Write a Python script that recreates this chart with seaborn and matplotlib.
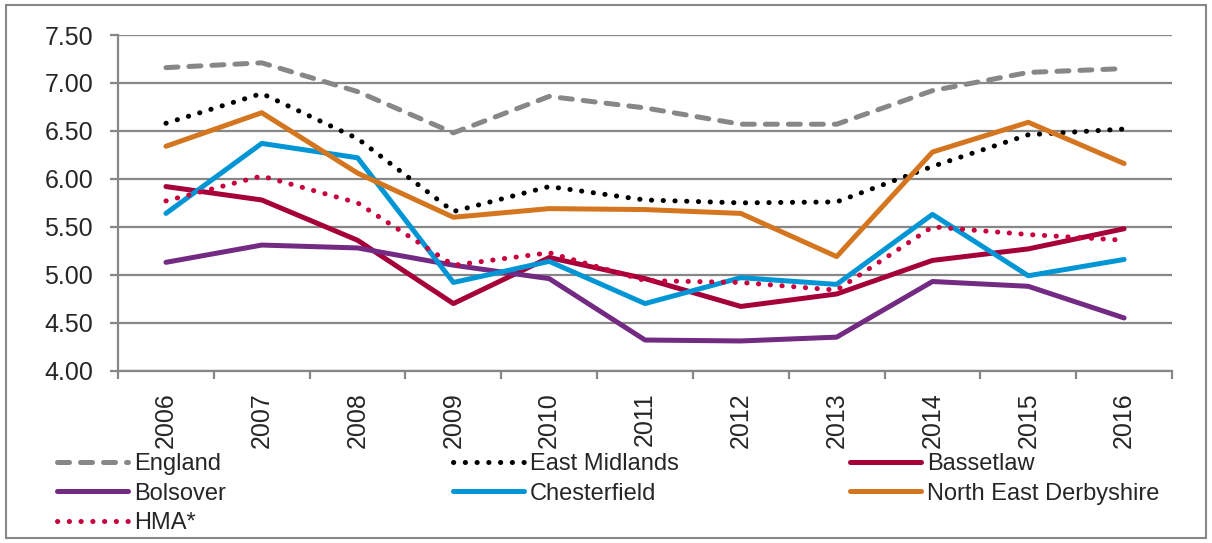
import pandas as pd
import matplotlib.pyplot as plt
import seaborn as sns
from matplotlib.patches import Rectangle
from matplotlib.ticker import MultipleLocator, FixedLocator

# Values
years = ["2006", "2007", "2008", "2009", "2010", "2011", "2012", "2013", "2014", "2015", "2016"]
england = [7.16, 7.21, 6.91, 6.48, 6.86, 6.74, 6.57, 6.57, 6.92, 7.11, 7.15]
east_midlands = [6.58, 6.89, 6.42, 5.66, 5.92, 5.78, 5.75, 5.76, 6.13, 6.46, 6.52]
bassetlaw = [5.92, 5.78, 5.36, 4.70, 5.18, 4.96, 4.67, 4.80, 5.15, 5.27, 5.48]
bolsover = [5.13, 5.31, 5.28, 5.10, 4.96, 4.32, 4.31, 4.35, 4.93, 4.88, 4.55]
chesterfield = [5.64, 6.37, 6.22, 4.92, 5.14, 4.70, 4.97, 4.90, 5.63, 4.99, 5.16]
ne_derbyshire = [6.34, 6.69, 6.06, 5.60, 5.69, 5.68, 5.64, 5.19, 6.28, 6.59, 6.16]
hma = [5.77, 6.03, 5.75, 5.10, 5.23, 4.94, 4.92, 4.84, 5.50, 5.42, 5.36]

sns.set_style("white")
plt.rcParams['font.family'] = ['Liberation Sans', 'DejaVu Sans']

fig = plt.figure(figsize=(12.12, 5.43), dpi=100)
ax = fig.add_axes([0.0974, 0.3173, 0.8696, 0.6182])

lw = 3.6
dash = (0, (2.4, 2.2))
dot = (0, (0.05, 2.3))

# name, values, colour, linestyle
series = [
    ("England", england, "#878787", dash),
    ("East Midlands", east_midlands, "#000000", dot),
    ("Bassetlaw", bassetlaw, "#A5003A", "-"),
    ("Bolsover", bolsover, "#732A82", "-"),
    ("Chesterfield", chesterfield, "#0096D6", "-"),
    ("North East Derbyshire", ne_derbyshire, "#D4751F", "-"),
    ("HMA*", hma, "#C8003C", dot),
]

handles = {}
for name, vals, col, ls in series:
    df = pd.DataFrame({"Year": years, "Value": vals})
    sns.lineplot(data=df, x="Year", y="Value", color=col, linewidth=lw,
                 linestyle=ls, dash_capstyle="round", solid_capstyle="round",
                 ax=ax, label=name, legend=False)
    handles[name] = ax.lines[-1]

ax.set_xlim(-0.5, len(years) - 0.5)
ax.set_ylim(4.0, 7.5)
ax.yaxis.set_major_locator(MultipleLocator(0.5))
ax.yaxis.set_major_formatter(lambda v, p: f"{v:.2f}")
ax.xaxis.set_minor_locator(FixedLocator([i - 0.5 for i in range(len(years) + 1)]))

ax.grid(axis="y", color="#878787", linewidth=1.6)
ax.set_axisbelow(True)
for s in ["top", "right"]:
    ax.spines[s].set_visible(False)
for s in ["left", "bottom"]:
    ax.spines[s].set_color("#878787")
    ax.spines[s].set_linewidth(1.6)

ax.tick_params(axis="y", which="major", left=True, length=6, width=1.6,
               color="#878787", labelsize=18, pad=12)
ax.tick_params(axis="x", which="major", bottom=False, labelsize=18, pad=12,
               labelrotation=90)
ax.tick_params(axis="x", which="minor", bottom=True, length=6, width=1.6,
               color="#878787")
ax.set_xlabel("")
ax.set_ylabel("")

# Legend laid out in three equal columns like the original
columns = [
    (["England", "Bolsover", "HMA*"], 0.0474),
    (["East Midlands", "Chesterfield"], 0.374),
    (["Bassetlaw", "North East Derbyshire"], 0.7016),
]
for names, xpos in columns:
    fig.legend([handles[n] for n in names], names, loc="upper left",
               bbox_to_anchor=(xpos, 0.165), frameon=False, fontsize=17,
               handlelength=3.0, handletextpad=0.25, labelspacing=0.31,
               borderpad=0, borderaxespad=0)

fig.patches.append(Rectangle((6 / 1212, 5 / 543), 1200 / 1212, 533 / 543,
                             transform=fig.transFigure, fill=False,
                             edgecolor="#878787", linewidth=1.5))

plt.savefig("out.png", dpi=100)
